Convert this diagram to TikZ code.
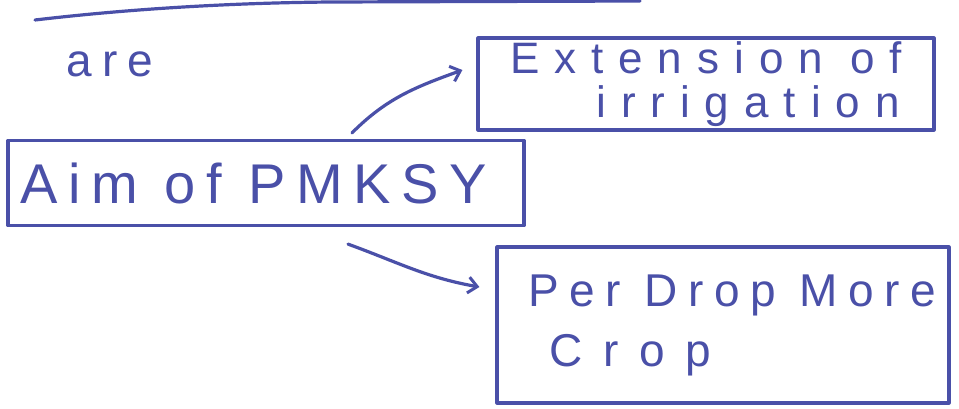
\documentclass[tikz,border=0pt]{standalone}
\usepackage{fontspec}
\setmainfont{Liberation Sans}
\newfontfamily\extfont[LetterSpace=34]{Liberation Sans}
\newfontfamily\aimfont[LetterSpace=19]{Liberation Sans}
\newfontfamily\perfont[LetterSpace=23]{Liberation Sans}
\newfontfamily\cropfont[LetterSpace=45]{Liberation Sans}
\newfontfamily\arefont[LetterSpace=22]{Liberation Sans}
\usetikzlibrary{arrows.meta}
\definecolor{ink}{HTML}{4A50A8}
\begin{document}
\begin{tikzpicture}[x=1pt,y=-1pt,
  ink line/.style={draw=ink,line width=3.2pt,line cap=round,line join=round},
  box/.style={ink line,rectangle,inner sep=0pt,align=center,text=ink},
  conn/.style={ink line,-{Straight Barb[length=9pt,width=16pt,line width=3pt]}}]
\useasboundingbox (0,0) rectangle (959,408);
\fill[white] (0,0) rectangle (959,408);
% top rule
\draw[ink line] (35,20) .. controls (120,10) and (220,3) .. (330,2) -- (640,1);
% "are"
\node[text=ink,font=\arefont\fontsize{46}{48}\selectfont,anchor=center] (are) at (110,64) {are};
% boxes
\node[box,minimum width=456pt,minimum height=92pt,font=\fontsize{44}{44}\selectfont] (ext) at (706,84)
  {\extfont Extension of\\[0pt]\hspace*{84pt}\extfont irrigation};
\node[box,minimum width=516pt,minimum height=85pt,font=\aimfont\fontsize{56}{60}\selectfont] (aim) at (266,183)
  {\hspace*{-24pt}Aim of PMKSY};
\node[box,minimum width=452pt,minimum height=156pt,font=\fontsize{46}{60}\selectfont] (pdm) at (723,325)
  {\hspace*{18pt}\perfont Per Drop More\\\hspace*{-186pt}\cropfont Crop};
% connectors
\draw[conn] ([xshift=86pt,yshift=6pt]aim.north) to[out=45,in=200] ([xshift=-14pt,yshift=14pt]ext.west);
\draw[conn] ([xshift=82pt,yshift=-17pt]aim.south) to[out=-20,in=170] ([xshift=-16pt,yshift=38pt]pdm.west);
\end{tikzpicture}
\end{document}
